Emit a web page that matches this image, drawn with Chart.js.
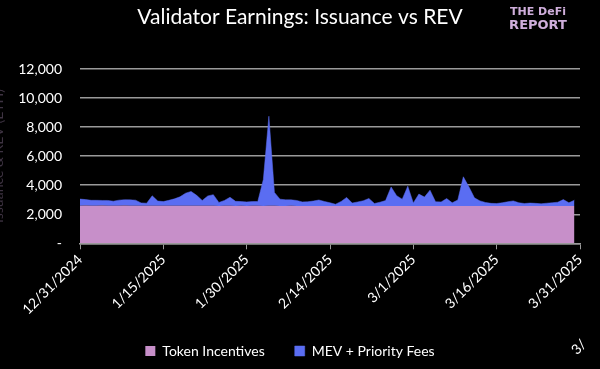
<!DOCTYPE html>
<html>
<head>
<meta charset="utf-8">
<script src="https://cdn.jsdelivr.net/npm/chart.js@4.4.1/dist/chart.umd.min.js"></script>
<style>
  html, body { margin: 0; padding: 0; background: #000; }
  #wrap { width: 600px; height: 369px; }
</style>
</head>
<body>
<div id="wrap"><canvas id="earnings" width="600" height="369"></canvas></div>
<script>
// x tick labels, one every 15 days from 12/31/2024
var tickLabels = ["12/31/2024", "1/15/2025", "1/30/2025", "2/14/2025", "3/1/2025", "3/16/2025", "3/31/2025"];

// daily ETH, 12/31/2024 .. 3/30/2025
var tokenIncentives = [
  2590, 2600, 2590, 2590, 2600, 2590, 2580, 2590, 2600, 2590,
  2590, 2580, 2580, 2590, 2590, 2580, 2590, 2590, 2580, 2580,
  2590, 2580, 2580, 2590, 2580, 2570, 2580, 2580, 2570, 2580,
  2570, 2580, 2580, 2570, 2580, 2580, 2570, 2570, 2580, 2570,
  2570, 2560, 2570, 2570, 2560, 2570, 2570, 2560, 2570, 2570,
  2560, 2560, 2570, 2560, 2560, 2570, 2560, 2560, 2570, 2560,
  2560, 2570, 2560, 2560, 2570, 2560, 2560, 2570, 2560, 2560,
  2570, 2560, 2560, 2570, 2560, 2560, 2570, 2560, 2560, 2570,
  2560, 2560, 2570, 2560, 2560, 2570, 2560, 2560, 2570, 2560
];
var mevPriorityFees = [
  455, 410, 370, 370, 350, 360, 320, 380, 400, 400,
  380, 200, 180, 680, 320, 290, 370, 470, 620, 870,
  980, 720, 370, 670, 770, 240, 370, 590, 320, 290,
  280, 290, 300, 1820, 6170, 920, 470, 420, 410, 380,
  280, 300, 340, 410, 320, 220, 120, 320, 590, 200,
  290, 370, 520, 180, 270, 370, 1320, 720, 470, 1370,
  220, 820, 620, 1100, 290, 290, 520, 220, 420, 2020,
  1320, 570, 360, 240, 190, 180, 220, 300, 360, 220,
  180, 210, 180, 160, 200, 220, 270, 450, 220, 410
];

function toPoints(arr) {
    return arr.map(function (v, i) { return { x: i, y: v }; });
}

// title, logo, cut-off axis title and the stray "3/" label
var decorations = {
    id: 'decorations',
    afterDraw: function (chart) {
        var ctx = chart.ctx;
        ctx.save();
        ctx.fillStyle = '#ffffff';
        ctx.font = '21px Lato';
        ctx.textAlign = 'center';
        ctx.textBaseline = 'middle';
        ctx.fillText('Validator Earnings: Issuance vs REV', 300, 17);

        ctx.fillStyle = '#cfaedb';
        ctx.font = 'bold 11px "DejaVu Sans"';
        ctx.fillText('THE DeFi', 538, 12);
        ctx.font = 'bold 13px "DejaVu Sans"';
        ctx.fillText('REPORT', 538, 26);

        ctx.save();
        ctx.translate(3, 156);
        ctx.rotate(-Math.PI / 2);
        ctx.fillStyle = '#3e3342';
        ctx.font = '14px Lato';
        ctx.textBaseline = 'alphabetic';
        ctx.fillText('Issuance & REV (ETH)', 0, 0);
        ctx.restore();

        ctx.save();
        ctx.translate(584, 342);
        ctx.rotate(-Math.PI / 4);
        ctx.fillStyle = '#ffffff';
        ctx.font = '14px Lato';
        ctx.textAlign = 'right';
        ctx.fillText('3/', 0, 0);
        ctx.restore();
        ctx.restore();
    }
};

var chrt = document.getElementById("earnings").getContext("2d");
var earningsChart = new Chart(chrt, {
    type: 'line',
    data: {
        datasets: [
            {
                label: "Token Incentives",
                data: toPoints(tokenIncentives),
                backgroundColor: '#c78fc9',
                borderColor: '#c78fc9',
                borderWidth: 0,
                pointRadius: 0,
                fill: 'origin'
            },
            {
                label: "MEV + Priority Fees",
                data: toPoints(mevPriorityFees),
                backgroundColor: '#5a6df2',
                borderColor: '#5a6df2',
                borderWidth: 0.5,
                pointRadius: 0,
                fill: '-1'
            }
        ]
    },
    options: {
        responsive: false,
        animation: false,
        layout: { padding: { top: 69, right: 20, left: 0, bottom: 1 } },
        plugins: {
            legend: {
                position: 'bottom',
                labels: {
                    color: '#ffffff',
                    font: { family: 'Lato', size: 14 },
                    boxWidth: 10,
                    boxHeight: 10,
                    padding: 30
                }
            },
            tooltip: { enabled: false }
        },
        scales: {
            x: {
                type: 'linear',
                min: 0,
                max: 90,
                grid: { drawOnChartArea: false, drawTicks: true, tickLength: 6, color: '#9a9a9a' },
                border: { display: true, color: '#9a9a9a', width: 1.5 },
                ticks: {
                    stepSize: 15,
                    color: '#ffffff',
                    font: { family: 'Lato', size: 14 },
                    minRotation: 45,
                    maxRotation: 45,
                    padding: 2,
                    callback: function (v) { return tickLabels[v / 15]; }
                },
                afterFit: function (scale) { scale.height = 70.7; }
            },
            y: {
                stacked: true,
                min: 0,
                max: 12000,
                grid: { drawTicks: false, color: '#9a9a9a', lineWidth: 1.5 },
                border: { display: false },
                ticks: {
                    stepSize: 2000,
                    color: '#ffffff',
                    font: { family: 'Lato', size: 14 },
                    padding: 18,
                    callback: function (v) { return v === 0 ? '-' : v.toLocaleString('en-US'); }
                },
                afterFit: function (scale) { scale.width = 80; }
            }
        }
    },
    plugins: [decorations]
});
</script>
</body>
</html>
